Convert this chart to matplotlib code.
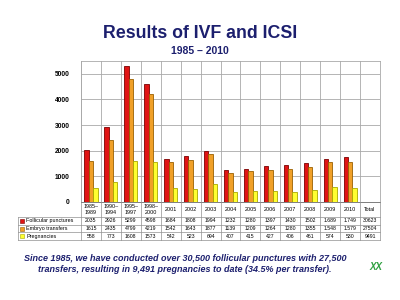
import numpy as np
import matplotlib.pyplot as plt

# chart data
categories = ['1985–\n1989', '1990–\n1994', '1995–\n1997', '1998–\n2000', '2001', '2002', '2003',
              '2004', '2005', '2006', '2007', '2008', '2009', '2010', 'Total']
punctures = [2035, 2926, 5299, 4598, 1684, 1808, 1994, 1232, 1280, 1397, 1430, 1502, 1689, 1749]
transfers = [1615, 2435, 4799, 4219, 1542, 1643, 1877, 1139, 1209, 1264, 1280, 1355, 1548, 1579]
pregnancies = [558, 773, 1608, 1573, 542, 523, 694, 407, 415, 427, 406, 461, 574, 530]
totals = [30623, 27504, 9491]
# table text as printed on the slide
punct_txt = ['2035', '2926', '5299', '4598', '1684', '1808', '1994', '1232', '1280', '1397',
             '1430', '1502', '1.689', '1.749', '30623']
trans_txt = ['1615', '2435', '4799', '4219', '1542', '1643', '1877', '1139', '1209', '1264',
             '1280', '1355', '1.548', '1.579', '27504']
preg_txt = ['558', '773', '1608', '1573', '542', '523', '694', '407', '415', '427',
            '406', '461', '574', '530', '9491']
series_names = ['Follicular punctures', 'Embryo transfers', 'Pregnancies']

navy = '#1c1f6e'
face = ['#e01414', '#f0a028', '#ffff30']
edge = ['#7a0000', '#9a6000', '#a8a800']
grid_c = '#a8a8a8'

fig = plt.figure(figsize=(4, 3), dpi=100)
fig.patch.set_facecolor('white')

fig.text(0.5, 0.89, 'Results of IVF and ICSI', ha='center', va='center',
         fontsize=12.8, fontweight='bold', color=navy, family='Liberation Sans')
fig.text(0.5, 0.83, '1985 – 2010', ha='center', va='center',
         fontsize=7.5, fontweight='bold', color=navy, family='Liberation Sans')

# main bar axes
ax = fig.add_axes([81 / 400, 1 - 202 / 300, 299 / 400, 141 / 300])
x = np.arange(len(punctures))
w = 0.22
for i, vals in enumerate([punctures, transfers, pregnancies]):
    ax.bar(x + 0.5 + (i - 1) * w, vals, width=w, color=face[i], edgecolor=edge[i], linewidth=0.6, zorder=3)

ax.set_xlim(0, len(categories))
ax.set_ylim(0, 5500)
ax.set_yticks(range(0, 5001, 1000))
ax.set_yticklabels([str(v) for v in range(0, 5001, 1000)], fontsize=4.8, fontweight='bold',
                   family='Liberation Sans')
ax.tick_params(axis='y', length=0, pad=8)
ax.set_xticks(range(len(categories) + 1))
ax.tick_params(axis='x', length=0, labelbottom=False)
ax.grid(True, color=grid_c, linewidth=0.6, zorder=0)
for s in ax.spines.values():
    s.set_color(grid_c)
    s.set_linewidth(0.6)
ax.spines['bottom'].set_color('#404040')

# data table under the chart
tab = fig.add_axes([81 / 400, 1 - 240 / 300, 299 / 400, 38 / 300])
tab.set_xlim(0, len(categories))
tab.set_ylim(38, 0)
tab.axis('off')
row_y = [0, 15, 22.7, 30.3, 38]
lab_left = -3.15
lc = '#909090'
for yy in row_y:
    x0 = 0 if yy == 0 else lab_left
    tab.plot([x0, len(categories)], [yy, yy], color=lc, lw=0.5, clip_on=False)
for k in range(len(categories) + 1):
    tab.plot([k, k], [0, 38], color=lc, lw=0.5, clip_on=False)
tab.plot([lab_left, lab_left], [15, 38], color=lc, lw=0.5, clip_on=False)

for k, c in enumerate(categories):
    tab.text(k + 0.5, 7.5, c, ha='center', va='center', fontsize=3.9, linespacing=1.1,
             family='Liberation Sans', clip_on=False)
rows = [punct_txt, trans_txt, preg_txt]
for r, vals in enumerate(rows):
    yc = (row_y[r + 1] + row_y[r + 2]) / 2
    tab.add_patch(plt.Rectangle((lab_left + 0.1, yc - 2), 0.2, 4, facecolor=face[r],
                                edgecolor=edge[r], lw=0.4, clip_on=False))
    tab.text(lab_left + 0.4, yc, series_names[r], ha='left', va='center', fontsize=3.9,
             family='Liberation Sans', clip_on=False)
    for k, v in enumerate(vals):
        tab.text(k + 0.5, yc, v, ha='center', va='center', fontsize=3.7,
                 family='Liberation Sans', clip_on=False)

fig.text(0.462, 0.12, 'Since 1985, we have conducted over 30,500 follicular punctures with 27,500\n'
         'transfers, resulting in 9,491 pregnancies to date (34.5% per transfer).',
         ha='center', va='center', fontsize=6.45, fontweight='bold', style='italic',
         color=navy, family='Liberation Sans', linespacing=1.35)

# little green logo at bottom right
fig.text(0.94, 0.11, 'XX', ha='center', va='center', fontsize=7, fontweight='bold',
         style='italic', color='#2fa040', family='Liberation Sans')

fig.savefig('out.png', dpi=100, facecolor='white')
